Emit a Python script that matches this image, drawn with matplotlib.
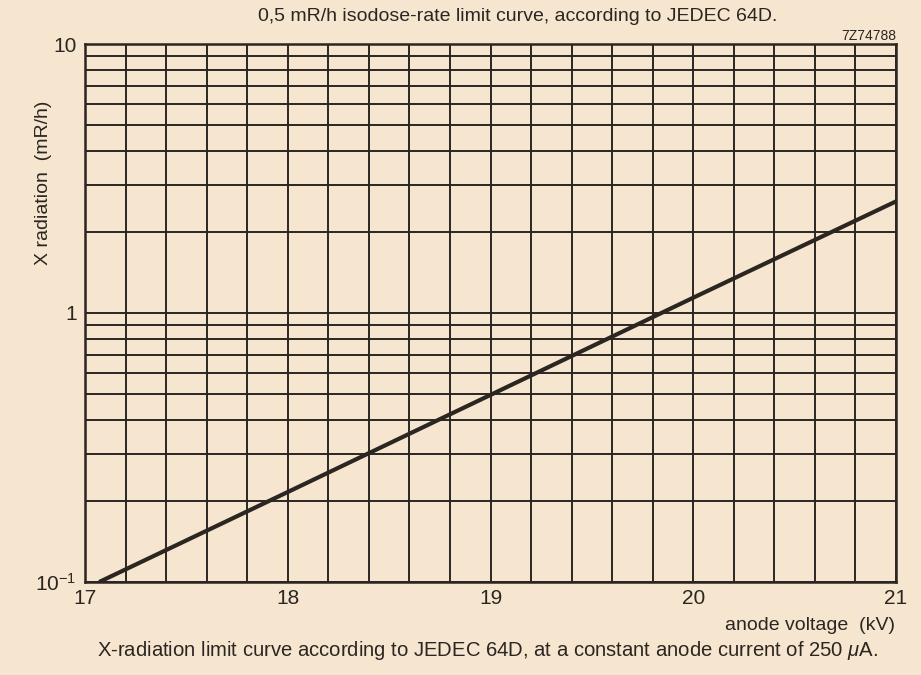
import matplotlib
matplotlib.use("Agg")
import matplotlib.pyplot as plt
from matplotlib.ticker import FixedLocator, LogLocator, NullFormatter

# values
voltage_kv = [17.07, 18.0, 19.0, 20.0, 21.0]
radiation = [0.1, 0.216, 0.496, 1.14, 2.6]

x_ticks = [17, 18, 19, 20, 21]
x_labels = ["17", "18", "19", "20", "21"]
y_ticks = [0.1, 1, 10]
y_labels = [r"$10^{-1}$", "1", "10"]

title = "0,5 mR/h isodose-rate limit curve, according to JEDEC 64D."
caption = "X-radiation limit curve according to JEDEC 64D, at a constant anode current of 250 $\\mu$A."
code = "7Z74788"

paper = "#f6e6cf"
ink = "#2b2622"

plt.rcParams["font.family"] = ["Liberation Sans", "DejaVu Sans"]
plt.rcParams["mathtext.fontset"] = "custom"
plt.rcParams["mathtext.rm"] = "Liberation Sans"
plt.rcParams["mathtext.it"] = "Liberation Sans:italic"

fig = plt.figure(figsize=(9.21, 6.75), dpi=100, facecolor=paper)
ax = fig.add_axes([0.0923, 0.1378, 0.8806, 0.797])
ax.set_facecolor(paper)

ax.set_yscale("log")
ax.set_xlim(17, 21)
ax.set_ylim(0.1, 10)

# grid: every 0.2 kV, and 1..9 per decade
ax.xaxis.set_major_locator(FixedLocator(x_ticks))
ax.xaxis.set_minor_locator(FixedLocator([17 + 0.2 * i for i in range(21)]))
ax.set_xticklabels(x_labels)
ax.yaxis.set_major_locator(FixedLocator(y_ticks))
ax.set_yticklabels(y_labels)
ax.yaxis.set_minor_locator(LogLocator(base=10, subs=range(2, 10)))
ax.yaxis.set_minor_formatter(NullFormatter())

ax.grid(True, which="both", color=ink, lw=1.4)
ax.tick_params(which="both", length=0, labelsize=15, colors=ink, pad=6)
ax.tick_params(axis="x", pad=5)
for s in ax.spines.values():
    s.set_color(ink)
    s.set_linewidth(1.8)

ax.plot(voltage_kv, radiation, color=ink, lw=3, solid_capstyle="butt")

fig.text(0.562, 0.975, title, ha="center", va="center", fontsize=14, color=ink)
fig.text(0.973, 0.947, code, ha="right", va="center", fontsize=10, color=ink)
fig.text(0.972, 0.074, "anode voltage  (kV)", ha="right", va="center", fontsize=14, color=ink)
fig.text(0.529, 0.036, caption, ha="center", va="center", fontsize=14.6, color=ink)
fig.text(0.047, 0.729, "X radiation  (mR/h)", ha="center", va="center", rotation=90,
         fontsize=14, color=ink)

fig.savefig("out.png", dpi=100, facecolor=paper)
